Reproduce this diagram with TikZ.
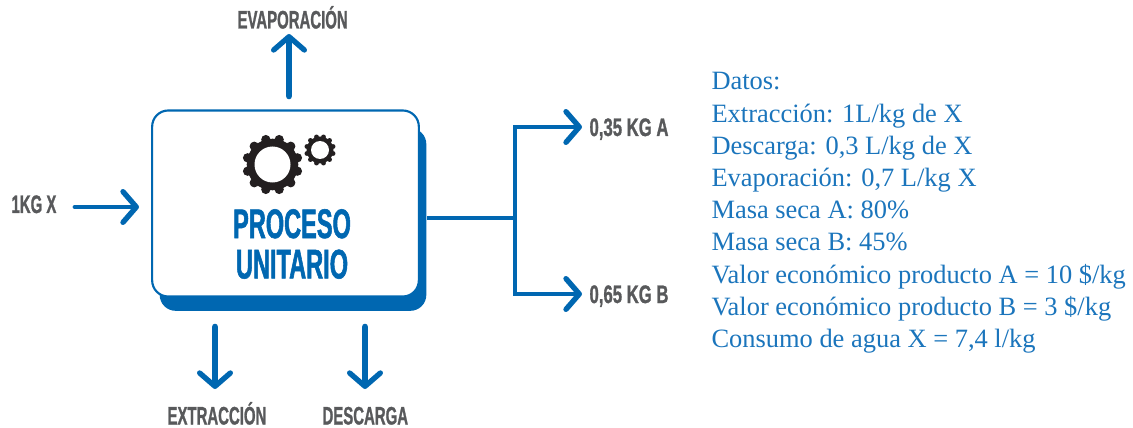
\documentclass[tikz,border=0pt]{standalone}
\usepackage{fontspec}
\usepackage{xcolor}
\usetikzlibrary{arrows.meta,positioning}
\setmainfont{Liberation Serif}
\newfontfamily\tallfont[FakeStretch=0.59,FakeBold=1.0]{Liberation Sans Bold}
\newfontfamily\widefont[FakeStretch=0.66,FakeBold=1.0]{Liberation Sans Bold}
\newfontfamily\titlefont[FakeStretch=0.57,FakeBold=1.3]{Liberation Sans Bold}
\definecolor{flowblue}{HTML}{0067B1}
\definecolor{datablue}{HTML}{1B75BC}
\definecolor{tallgray}{HTML}{58595B}
\definecolor{geargray}{HTML}{231F20}

\newcommand{\gearicon}[4]{%
    \foreach \a in {0,30,...,330}
        \fill[geargray] (#1,#2) ++(\a+15:#3) circle[radius=0.18*#3];
    \fill[geargray] (#1,#2) circle[radius=#3];
    \fill[white] (#1,#2) circle[radius=#4];
}

\begin{document}
\begin{tikzpicture}[x=0.75pt, y=-0.75pt, thick,
    flow/.style={draw=flowblue, line width=3.6pt, line cap=round, line join=miter,
        -{Straight Barb[length=10pt, width=23pt, line width=4pt, round]}},
    bigflow/.style={flow, line width=5pt},
    branch/.style={draw=flowblue, line width=3.6pt},
    tall/.style={font=\tallfont\fontsize{19}{20}\selectfont, text=tallgray, inner sep=0pt, anchor=base west},
    wide/.style={tall, font=\widefont\fontsize{19}{20}\selectfont},
    title/.style={font=\titlefont\fontsize{31}{30.3}\selectfont, text=flowblue, inner sep=0pt, align=center},
    data/.style={font=\fontsize{19.83}{24.15}\selectfont, text=datablue, inner sep=0pt, align=left, anchor=north west},
    unit/.style={rounded corners=12pt, minimum width=200pt, minimum height=139.5pt, inner sep=0pt}]
    \useasboundingbox (0,0) rectangle (1133,428);

    % Box
    \node[unit, fill=flowblue, minimum height=137pt] (backing) at (293,219.5) {};
    \node[unit, draw=flowblue, fill=white, line width=1.6pt] (unit) at (285.5,203.5) {};
    \gearicon{272.5}{164.5}{25.8}{18}
    \gearicon{320}{150}{13.5}{9}
    \node[title] (proceso) at (292,244) {PROCESO\\UNITARIO};

    % Free ends
    \coordinate (evapstart) at (289,96);
    \coordinate (evapend) at (289,34);
    \coordinate (feedstart) at (75,207);
    \coordinate (feedend) at (139,207);
    \coordinate (extstart) at (215,327);
    \coordinate (extend) at (215,389);
    \coordinate (disstart) at (365,327);
    \coordinate (disend) at (365,389);
    \coordinate (split) at (515,218);
    \coordinate (splita) at (515,127);
    \coordinate (splitb) at (515,294);
    \coordinate (enda) at (582,127);
    \coordinate (endb) at (582,294);

    % Flows
    \draw[bigflow] (evapstart) -- (evapend);
    \draw[flow] (feedstart) -- (feedend);
    \draw[bigflow] (extstart) -- (extend);
    \draw[bigflow] (disstart) -- (disend);
    \draw[branch] (backing.east |- split) -- (split);
    \draw[flow] (split) -- (splita) -- (enda);
    \draw[flow] (split) -- (splitb) -- (endb);

    % Labels
    \node[tall] (evap) at (237,28.5) {EVAPORACIÓN};
    \node[tall] (feed) at (11,213) {1KG X};
    \node[tall] (ext) at (167,424.5) {EXTRACCIÓN};
    \node[tall] (dis) at (322,424.5) {DESCARGA};
    \node[wide] (proda) at (589,136) {0,35 KG A};
    \node[wide] (prodb) at (589,303) {0,65 KG B};

    % Data
    \node[data] (datos) at (711,72) {Datos:\\
        Extracción: 1L/kg de X\\
        Descarga: 0,3 L/kg de X\\
        Evaporación: 0,7 L/kg X\\
        Masa seca A: 80\%\\
        Masa seca B: 45\%\\
        Valor económico producto A = 10 \$/kg\\
        Valor económico producto B = 3 \$/kg\\
        Consumo de agua X = 7,4 l/kg};
\end{tikzpicture}
\end{document}
